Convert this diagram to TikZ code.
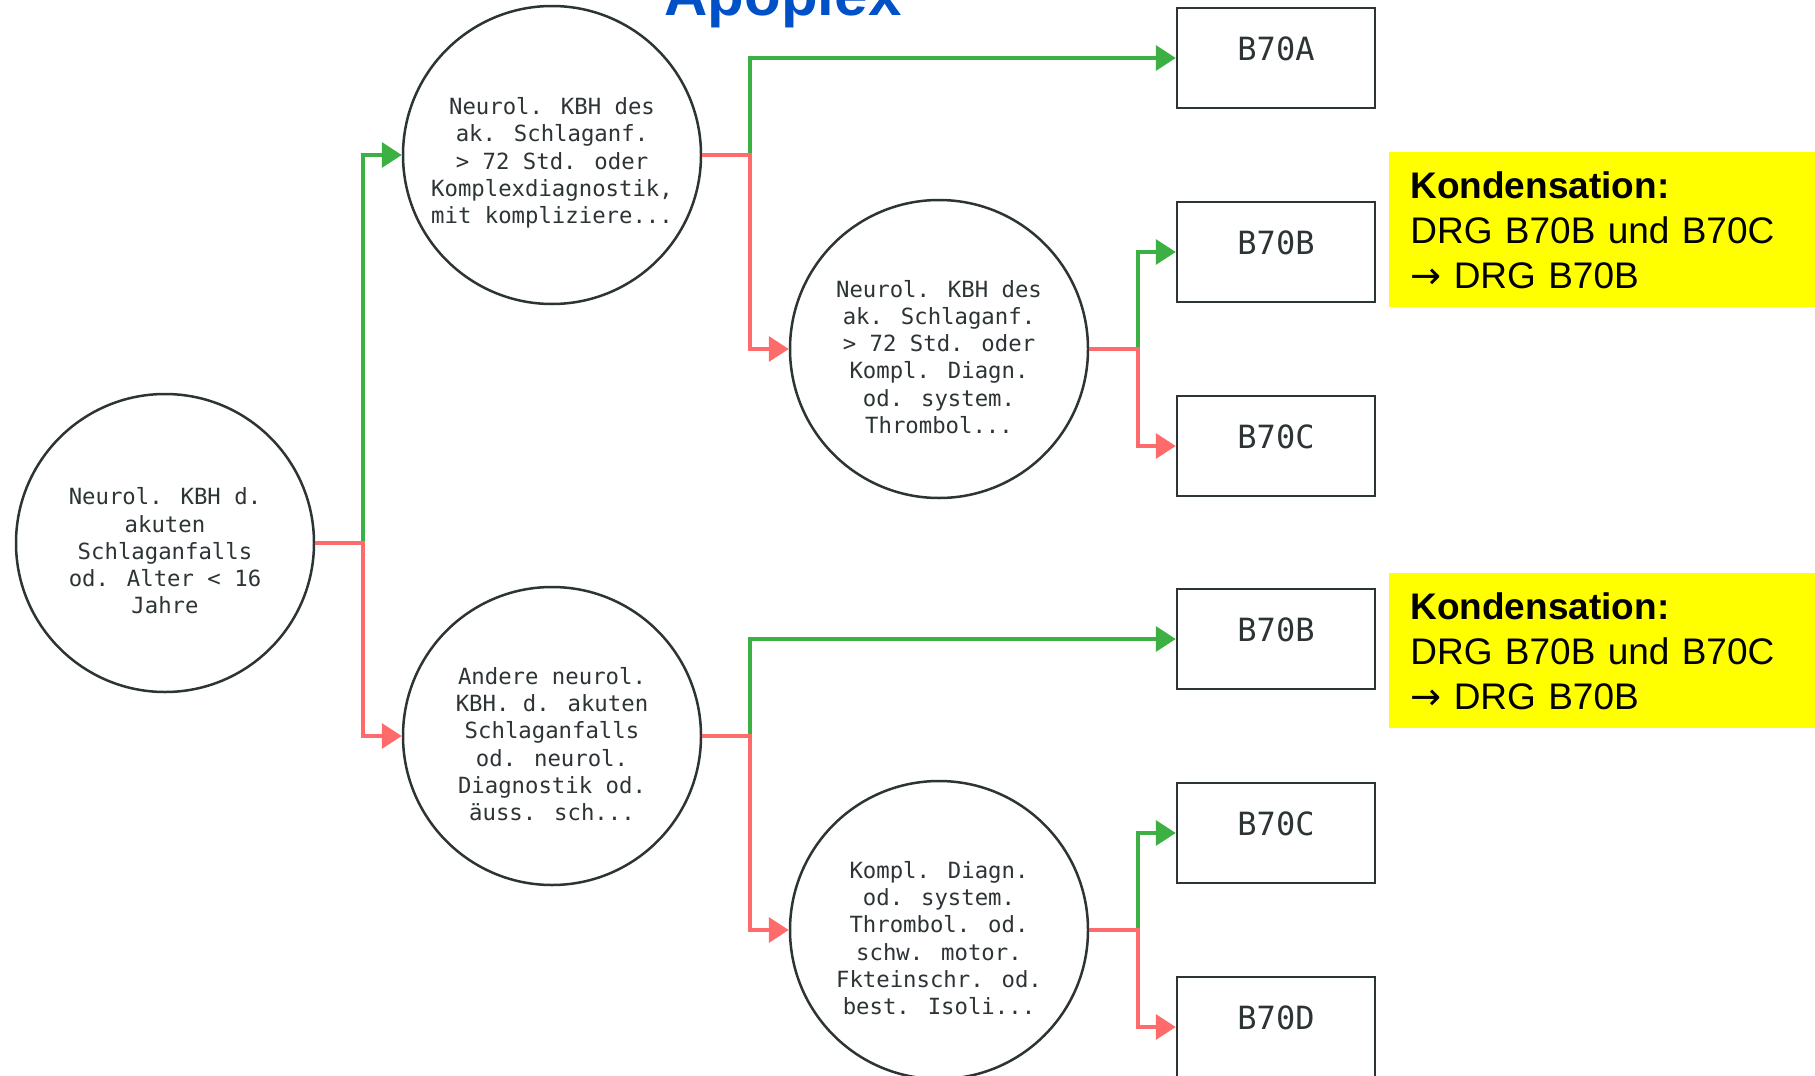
\documentclass[tikz,border=0pt]{standalone}
\usepackage{fontspec}
\setmainfont{Liberation Sans}
\newfontfamily\monofont{DejaVu Sans Mono}
\newfontfamily\symfont{DejaVu Sans}
\usetikzlibrary{arrows.meta}
\definecolor{gr}{HTML}{3CB043}
\definecolor{rd}{HTML}{FF6B6B}
\definecolor{ink}{HTML}{2D3436}
\definecolor{ttlblue}{HTML}{0050C8}
\definecolor{yel}{HTML}{FFFF00}
\newcommand\toppad{\rule{0pt}{16.5pt}}
\tikzset{
  decision/.style={circle, draw=ink, line width=1.25pt, fill=white, minimum size=149pt,
    inner sep=0pt, align=center, text=ink, font=\monofont\fontsize{11.15}{13.65}\selectfont},
  leaf/.style={rectangle, draw=ink, line width=1.25pt, minimum width=99pt, minimum height=50pt,
    inner xsep=0pt, inner ysep=0pt, text height=26pt, text depth=24pt, text=ink,
    font=\monofont\fontsize{16}{19}\selectfont},
  yes/.style={draw=gr, line width=1.75pt, -{Triangle[length=10pt,width=12.5pt]}},
  no/.style={draw=rd, line width=1.75pt, -{Triangle[length=10pt,width=12.5pt]}},
  note/.style={rectangle, fill=yel, anchor=north west, minimum width=213pt, minimum height=77.5pt,
    inner xsep=10.5pt, inner ysep=0pt, text width=192pt, align=left, text=black,
    font=\fontsize{18.5}{22.5}\selectfont},
  titletext/.style={anchor=base, text=ttlblue, font=\bfseries\fontsize{30}{36}\selectfont}
}
\begin{document}
\begin{tikzpicture}[x=0.5pt,y=-0.5pt]
\useasboundingbox (0,0) rectangle (1815,1076);
\clip (0,0) rectangle (1815,1076);
\fill[white] (0,0) rectangle (1815,1076);

\node[titletext] (title) at (783,16) {Apoplex};

\node[decision] (root) at (165,543) {\toppad Neurol. KBH d.\\akuten\\Schlaganfalls\\od. Alter < 16\\Jahre};
\node[decision] (c1) at (552,155) {\toppad Neurol. KBH des\\ak. Schlaganf.\\> 72 Std. oder\\Komplexdiagnostik,\\mit kompliziere...};
\node[decision] (c2) at (939,349) {\toppad Neurol. KBH des\\ak. Schlaganf.\\> 72 Std. oder\\Kompl. Diagn.\\od. system.\\Thrombol...};
\node[decision] (c3) at (552,736) {\toppad Andere neurol.\\KBH. d. akuten\\Schlaganfalls\\od. neurol.\\Diagnostik od.\\äuss. sch...};
\node[decision] (c4) at (939,930) {\toppad Kompl. Diagn.\\od. system.\\Thrombol. od.\\schw. motor.\\Fkteinschr. od.\\best. Isoli...};

\node[leaf] (l1) at (1276,58) {B70A};
\node[leaf] (l2) at (1276,252) {B70B};
\node[leaf] (l3) at (1276,446) {B70C};
\node[leaf] (l4) at (1276,639) {B70B};
\node[leaf] (l5) at (1276,833) {B70C};
\node[leaf] (l6) at (1276,1027) {B70D};

\node[note] (k1) at (1389,152) {\textbf{Kondensation:}\\DRG B70B und B70C\\{\symfont →} DRG B70B};
\node[note] (k2) at (1389,573) {\textbf{Kondensation:}\\DRG B70B und B70C\\{\symfont →} DRG B70B};

\coordinate (b0) at (363,543);
\coordinate (b1) at (750,155);
\coordinate (b2) at (1138,349);
\coordinate (b3) at (750,736);
\coordinate (b4) at (1138,930);

\draw[yes] (root.east) -- (b0) |- (c1.west);
\draw[no]  (root.east) -- (b0) |- (c3.west);
\draw[yes] (c1.east) -- (b1) |- (l1.west);
\draw[no]  (c1.east) -- (b1) |- (c2.west);
\draw[yes] (c2.east) -- (b2) |- (l2.west);
\draw[no]  (c2.east) -- (b2) |- (l3.west);
\draw[yes] (c3.east) -- (b3) |- (l4.west);
\draw[no]  (c3.east) -- (b3) |- (c4.west);
\draw[yes] (c4.east) -- (b4) |- (l5.west);
\draw[no]  (c4.east) -- (b4) |- (l6.west);
\end{tikzpicture}
\end{document}
